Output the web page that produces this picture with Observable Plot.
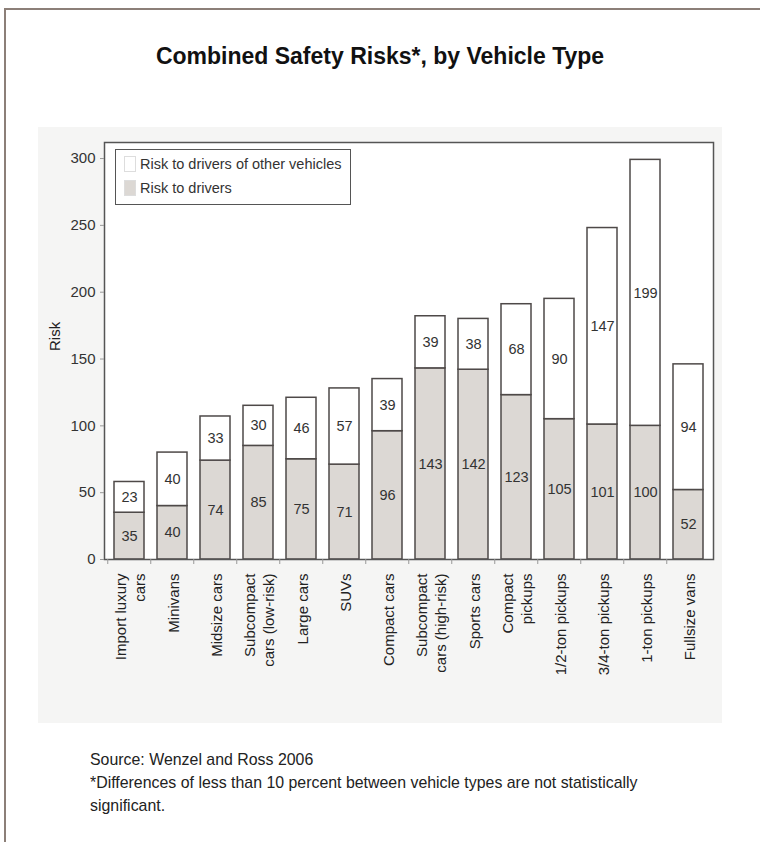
<!DOCTYPE html>
<html>
<head>
<meta charset="utf-8">
<script src="https://cdn.jsdelivr.net/npm/d3@7"></script>
<script src="https://cdn.jsdelivr.net/npm/@observablehq/plot@0.6"></script>
<style>
  html, body { margin: 0; padding: 0; background: #fff; }
  #page { position: relative; width: 760px; height: 842px; overflow: hidden; font-family: "Liberation Sans", Arial, sans-serif; }
  #border { position: absolute; left: 4px; top: 8px; right: -10px; bottom: -10px; border-left: 2px solid #8c7f78; border-top: 2px solid #8c7f78; }
  #title { position: absolute; left: 0; width: 760px; top: 43px; text-align: center; font-weight: bold; font-size: 23px; color: #111; }
  #panel { position: absolute; left: 38px; top: 127px; width: 684px; height: 596px; background: #f5f5f4; }
  #chart { position: absolute; left: 0; top: 130px; }
  #legend { position: absolute; left: 115px; top: 149px; width: 234px; height: 54px; border: 1.5px solid #555; background: #fff; font-size: 14.5px; color: #333; }
  .item { position: absolute; left: 8px; display: flex; align-items: center; }
  .sw { width: 10px; height: 14px; margin-right: 4px; border: 1px solid #ddd; }
  #caption { position: absolute; left: 90px; top: 748px; font-size: 17px; line-height: 23px; color: #222; transform: scaleX(0.935); transform-origin: left top; white-space: nowrap; }
</style>
</head>
<body>
<div id="page">
  <div id="border"></div>
  <div id="title">Combined Safety Risks*, by Vehicle Type</div>
  <div id="panel"></div>
  <div id="chart"></div>
  <div id="legend">
    <div class="item" style="top:6px"><span class="sw" style="background:#fff"></span>Risk to drivers of other vehicles</div>
    <div class="item" style="top:30px"><span class="sw" style="background:#dcd8d4"></span>Risk to drivers</div>
  </div>
  <div id="caption">Source: Wenzel and Ross 2006<br>*Differences of less than 10 percent between vehicle types are not statistically<br>significant.</div>
</div>
<script>
const categories = [
  "Import luxury\ncars", "Minivans", "Midsize cars", "Subcompact\ncars (low-risk)",
  "Large cars", "SUVs", "Compact cars", "Subcompact\ncars (high-risk)",
  "Sports cars", "Compact\npickups", "1/2-ton pickups", "3/4-ton pickups",
  "1-ton pickups", "Fullsize vans"
];
const riskToDrivers = [35, 40, 74, 85, 75, 71, 96, 143, 142, 123, 105, 101, 100, 52];
const riskToOthers  = [23, 40, 33, 30, 46, 57, 39, 39, 38, 68, 90, 147, 199, 94];
const yTicks = [0, 50, 100, 150, 200, 250, 300];

const rows = categories.map((c, i) => ({
  cat: c, drivers: riskToDrivers[i], others: riskToOthers[i],
  total: riskToDrivers[i] + riskToOthers[i]
}));

const W = 760, mL = 104, mR = 47;
const step = (W - mL - mR) / categories.length;
const stroke = "#4e4948";

const chart = Plot.plot({
  width: W, height: 600,
  marginLeft: mL, marginRight: mR, marginTop: 12, marginBottom: 171,
  style: { background: "transparent", fontFamily: "'Liberation Sans', Arial, sans-serif", color: "#333" },
  x: { type: "band", domain: categories, paddingInner: 0.31, paddingOuter: 0.155, label: null },
  y: { domain: [0, 312], label: null },
  marks: [
    Plot.frame({ fill: "white", stroke: "none" }),
    Plot.barY(rows, { x: "cat", y1: 0, y2: "drivers", fill: "#dcd8d4", stroke, strokeWidth: 1.5 }),
    Plot.barY(rows, { x: "cat", y1: "drivers", y2: "total", fill: "white", stroke, strokeWidth: 1.5 }),
    Plot.text(rows, { x: "cat", y: d => d.drivers / 2, text: d => String(d.drivers), fontSize: 14.5, fill: "#333" }),
    Plot.text(rows, { x: "cat", y: d => d.drivers + d.others / 2, text: d => String(d.others), fontSize: 14.5, fill: "#333" }),
    Plot.frame({ stroke: "#555", strokeWidth: 1.5 }),
    Plot.axisY({ ticks: yTicks, tickSize: 4, tickPadding: 5, fontSize: 15, stroke: "#999", label: null }),
    Plot.text(["Risk"], { frameAnchor: "left", dx: -49, rotate: -90, fontSize: 15, fill: "#222" }),
    Plot.axisX({ tickSize: 5, tickFormat: () => "", dx: -step / 2, stroke: "#999" }),
    Plot.axisX({ tickSize: 0, tickPadding: 14, tickRotate: -90, fontSize: 15, lineHeight: 1.25, fill: "#222", label: null })
  ]
});
document.getElementById("chart").appendChild(chart);
</script>
</body>
</html>
